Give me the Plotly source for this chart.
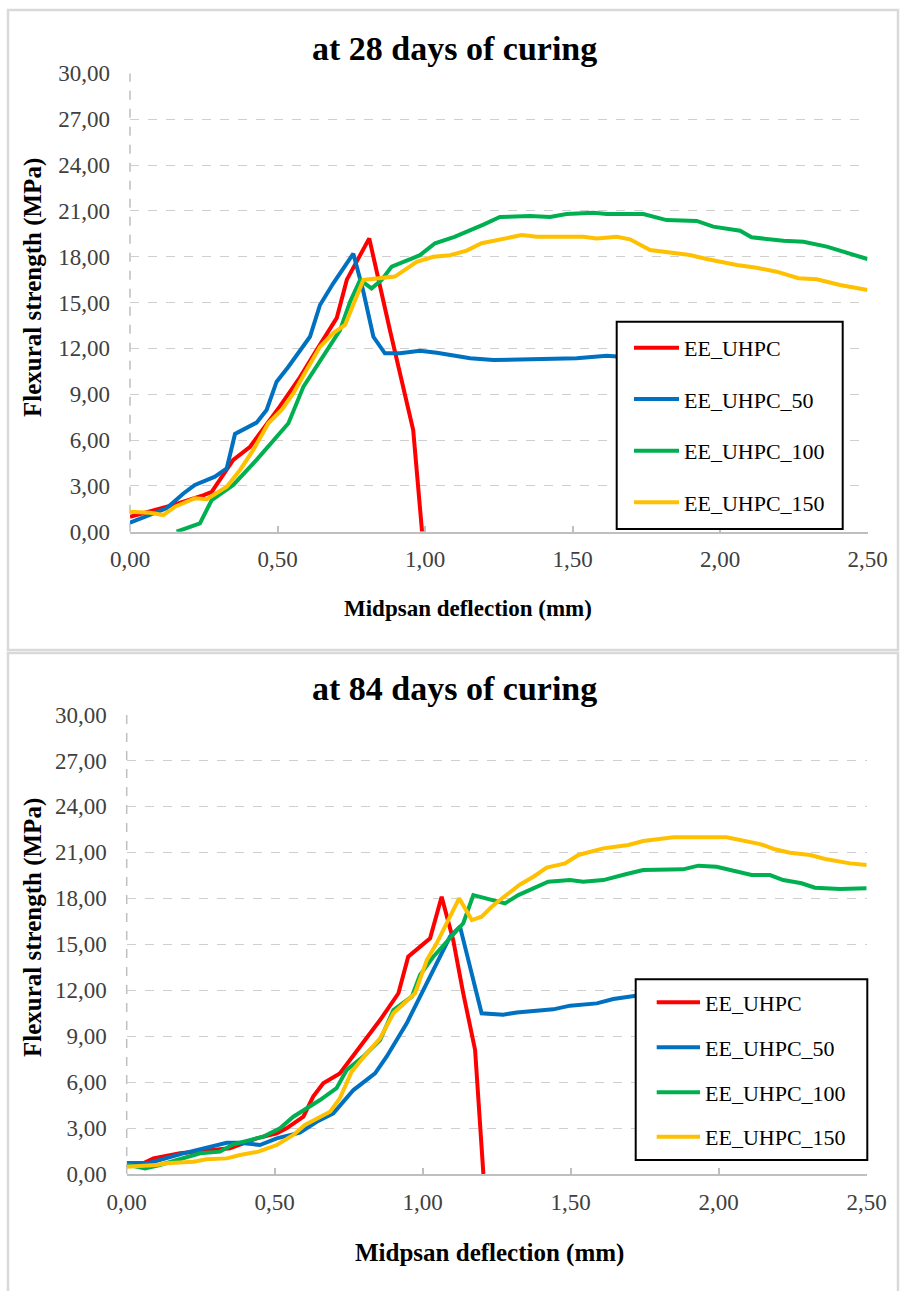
import plotly.graph_objects as go

# ---------------- data : 28 days ----------------
series_names = ["EE_UHPC", "EE_UHPC_50", "EE_UHPC_100", "EE_UHPC_150"]
series_colors = ["#FF0000", "#0070C0", "#00B050", "#FFC000"]

x28_uhpc = [0, 0.147, 0.25, 0.277, 0.35, 0.407, 0.508, 0.576, 0.633, 0.701, 0.735, 0.757, 0.811, 0.881, 0.96, 0.99]
y28_uhpc = [0.98, 1.75, 2.4, 2.6, 4.7, 5.56, 8.2, 10.1, 11.9, 14.0, 16.5, 17.3, 19.2, 13.2, 6.66, 0.0]

x28_50 = [0, 0.124, 0.181, 0.22, 0.288, 0.328, 0.356, 0.429, 0.463, 0.497, 0.537, 0.576, 0.61, 0.644, 0.689, 0.757,
          0.79, 0.825, 0.864, 0.915, 0.983, 1.04, 1.1, 1.153, 1.232, 1.333, 1.424, 1.48, 1.514, 1.616, 1.7]
y28_50 = [0.59, 1.53, 2.5, 3.06, 3.6, 4.15, 6.4, 7.14, 7.97, 9.82, 10.8, 11.9, 12.76, 14.84, 16.26, 18.2,
          15.8, 12.76, 11.68, 11.68, 11.85, 11.72, 11.5, 11.35, 11.24, 11.28, 11.35, 11.4, 11.35, 11.52, 11.4]

x28_100 = [0.158, 0.237, 0.277, 0.35, 0.429, 0.537, 0.588, 0.667, 0.712, 0.746, 0.78, 0.819, 0.853, 0.887, 0.983,
           1.034, 1.1, 1.198, 1.254, 1.356, 1.424, 1.48, 1.571, 1.616, 1.74, 1.819, 1.921, 1.977, 2.068, 2.107,
           2.215, 2.283, 2.362, 2.5]
y28_100 = [0.0, 0.55, 2.07, 3.06, 4.7, 7.1, 9.5, 11.9, 13.2, 15.05, 16.48, 15.93, 16.48, 17.35, 18.1,
           18.88, 19.3, 20.1, 20.6, 20.67, 20.6, 20.8, 20.88, 20.8, 20.8, 20.4, 20.34, 19.97, 19.7, 19.27,
           19.05, 18.98, 18.66, 17.85]

x28_150 = [0, 0.068, 0.113, 0.153, 0.22, 0.26, 0.328, 0.373, 0.418, 0.469, 0.514, 0.554, 0.599, 0.644, 0.689,
           0.729, 0.791, 0.847, 0.898, 0.972, 1.028, 1.085, 1.141, 1.192, 1.254, 1.328, 1.379, 1.537, 1.582,
           1.65, 1.695, 1.763, 1.898, 1.955, 2.057, 2.124, 2.192, 2.266, 2.328, 2.407, 2.5]
y28_150 = [1.31, 1.24, 1.09, 1.64, 2.19, 2.12, 2.95, 4.04, 5.35, 7.1, 7.97, 9.06, 10.6, 12.1, 13.0,
           13.53, 16.48, 16.59, 16.7, 17.67, 18.0, 18.1, 18.4, 18.88, 19.14, 19.42, 19.3, 19.3, 19.2,
           19.3, 19.14, 18.44, 18.11, 17.85, 17.46, 17.28, 17.02, 16.59, 16.52, 16.15, 15.82]

# ---------------- data : 84 days ----------------
x84_uhpc = [0, 0.056, 0.09, 0.135, 0.18, 0.349, 0.439, 0.507, 0.54, 0.597, 0.63, 0.664, 0.72, 0.788, 0.856,
            0.918, 0.951, 1.025, 1.064, 1.103, 1.137, 1.177, 1.205]
y84_uhpc = [0.7, 0.7, 1.02, 1.2, 1.35, 1.68, 2.33, 2.66, 2.98, 3.74, 5.05, 5.92, 6.57, 8.31, 10.05,
            11.8, 14.19, 15.39, 18.1, 15.28, 11.8, 8.1, 0.0]

x84_50 = [0, 0.079, 0.191, 0.248, 0.338, 0.383, 0.45, 0.507, 0.585, 0.642, 0.698, 0.766, 0.839, 0.878, 0.946,
          0.991, 1.036, 1.092, 1.126, 1.16, 1.199, 1.272, 1.318, 1.441, 1.498, 1.588, 1.644, 1.72, 1.8]
y84_50 = [0.7, 0.74, 1.35, 1.61, 2.04, 2.04, 1.89, 2.33, 2.7, 3.41, 3.96, 5.48, 6.57, 7.66, 9.84,
          11.58, 13.32, 15.49, 16.15, 13.53, 10.49, 10.4, 10.55, 10.75, 10.99, 11.14, 11.42, 11.64, 11.7]

x84_100 = [0, 0.062, 0.112, 0.191, 0.248, 0.315, 0.36, 0.462, 0.518, 0.563, 0.608, 0.653, 0.709, 0.743, 0.799,
           0.856, 0.901, 0.963, 0.991, 1.036, 1.137, 1.171, 1.278, 1.323, 1.424, 1.498, 1.542, 1.61, 1.689,
           1.745, 1.88, 1.931, 1.993, 2.049, 2.111, 2.173, 2.218, 2.28, 2.325, 2.41, 2.5]
y84_100 = [0.61, 0.37, 0.59, 1.02, 1.35, 1.46, 1.94, 2.44, 2.98, 3.74, 4.29, 4.83, 5.6, 6.79, 7.66,
           8.75, 10.7, 11.58, 12.99, 14.19, 16.37, 18.21, 17.67, 18.21, 19.08, 19.19, 19.08, 19.19, 19.59,
           19.85, 19.89, 20.13, 20.06, 19.8, 19.52, 19.52, 19.19, 18.98, 18.69, 18.6, 18.65]

x84_150 = [0, 0.056, 0.101, 0.135, 0.225, 0.27, 0.338, 0.383, 0.445, 0.507, 0.563, 0.602, 0.642, 0.687, 0.72,
           0.76, 0.811, 0.856, 0.901, 0.974, 1.014, 1.047, 1.123, 1.166, 1.199, 1.233, 1.278, 1.329, 1.374,
           1.419, 1.481, 1.526, 1.61, 1.695, 1.745, 1.802, 1.847, 2.027, 2.072, 2.14, 2.19, 2.241, 2.309,
           2.36, 2.444, 2.5]
y84_150 = [0.48, 0.52, 0.59, 0.7, 0.8, 0.96, 1.02, 1.24, 1.46, 1.89, 2.55, 3.2, 3.63, 4.07, 4.94,
           6.68, 7.88, 8.86, 10.49, 11.8, 13.97, 15.06, 18.0, 16.58, 16.8, 17.45, 18.15, 18.9, 19.41,
           20.0, 20.28, 20.83, 21.26, 21.48, 21.74, 21.85, 21.98, 21.98, 21.8, 21.54, 21.2, 20.98, 20.83,
           20.57, 20.28, 20.17]

panel_titles = ["at 28 days of curing", "at 84 days of curing"]
x_title = "Midpsan deflection (mm)"
y_title = "Flexural strength (MPa)"

# ---------------- layout helpers ----------------
W, H = 901, 1291
SERIF = "Liberation Serif"


def px(v):
    return v / W


def py(v):
    return 1 - v / H


fig = go.Figure()

data28 = [(x28_uhpc, y28_uhpc), (x28_50, y28_50), (x28_100, y28_100), (x28_150, y28_150)]
data84 = [(x84_uhpc, y84_uhpc), (x84_50, y84_50), (x84_100, y84_100), (x84_150, y84_150)]

for i, (xs, ys) in enumerate(data28):
    fig.add_trace(go.Scatter(x=xs, y=ys, mode="lines", name=series_names[i],
                             line=dict(color=series_colors[i], width=4),
                             xaxis="x", yaxis="y", showlegend=False))
for i, (xs, ys) in enumerate(data84):
    fig.add_trace(go.Scatter(x=xs, y=ys, mode="lines", name=series_names[i],
                             line=dict(color=series_colors[i], width=4),
                             xaxis="x2", yaxis="y2", showlegend=False))

# panel geometry (pixels)
panels = [
    dict(xl=130, xr=867.5, yt=73.4, yb=531.7, box=(8, 898, 10, 650), title_y=48,
         xt=(468, 608, 23), yt_=(33, 288, 25),
         leg=(616.7, 842.7, 321.7, 529), leg_line=(634, 679), leg_text=682,
         leg_y=[347.7, 399, 450.7, 502.3]),
    dict(xl=126.7, xr=866.7, yt=714.5, yb=1174, box=(8, 898, 653, 1300), title_y=688,
         xt=(489, 1253, 25), yt_=(33, 928, 25),
         leg=(635.7, 867.3, 979.3, 1160), leg_line=(656.7, 700), leg_text=703,
         leg_y=[1002.3, 1047.3, 1092.3, 1136.7]),
]

axis_font = dict(family=SERIF, size=23, color="#404040")
shapes = []
annotations = []

for k, p in enumerate(panels):
    xname = "xaxis" if k == 0 else "xaxis2"
    yname = "yaxis" if k == 0 else "yaxis2"
    xa = "x" if k == 0 else "x2"
    ya = "y" if k == 0 else "y2"
    fig.layout[xname] = dict(
        domain=[px(p["xl"]), px(p["xr"])], anchor=ya, range=[0, 2.5], dtick=0.5, tick0=0,
        tickformat=".2f", showline=True, linecolor="#bfbfbf", linewidth=2,
        ticks="inside", ticklen=6, tickwidth=1.5, tickcolor="#bfbfbf",
        showgrid=False, zeroline=False, tickfont=axis_font, ticklabelstandoff=6,
        automargin=False, fixedrange=True)
    fig.layout[yname] = dict(
        domain=[py(p["yb"]), py(p["yt"])], anchor=xa, range=[0, 30], dtick=3, tick0=0,
        tickformat=".2f", showline=False, showgrid=True, gridcolor="#cfcfcf", gridwidth=1,
        griddash="dash", zeroline=False, ticks="", tickfont=axis_font, ticklabelstandoff=19,
        automargin=False, fixedrange=True)

    # dashed vertical axis line
    shapes.append(dict(type="line", xref=f"{xa} domain", yref=f"{ya} domain", x0=0, x1=0, y0=0, y1=1,
                       line=dict(color="#bfbfbf", width=1.5, dash="dash"), layer="below"))

    # panel border
    bx0, bx1, by0, by1 = p["box"]
    shapes.append(dict(type="rect", xref="paper", yref="paper", x0=px(bx0), x1=px(bx1),
                       y0=py(by1), y1=py(by0), line=dict(color="#d9d9d9", width=2.5),
                       fillcolor="rgba(0,0,0,0)", layer="below"))

    # title
    annotations.append(dict(text=f"<b>{panel_titles[k]}</b>", xref="paper", yref="paper",
                            x=px(454), y=py(p["title_y"]), xanchor="center", yanchor="middle",
                            showarrow=False, font=dict(family=SERIF, size=34, color="#000000")))
    # axis titles
    tx, ty, ts = p["xt"]
    annotations.append(dict(text=f"<b>{x_title}</b>", xref="paper", yref="paper",
                            x=px(tx), y=py(ty), xanchor="center", yanchor="middle",
                            showarrow=False, font=dict(family=SERIF, size=ts, color="#000000")))
    vx, vy, vs = p["yt_"]
    annotations.append(dict(text=f"<b>{y_title}</b>", xref="paper", yref="paper",
                            x=px(vx), y=py(vy), xanchor="center", yanchor="middle", textangle=-90,
                            showarrow=False, font=dict(family=SERIF, size=vs, color="#000000")))

    # legend box
    lx0, lx1, ly0, ly1 = p["leg"]
    shapes.append(dict(type="rect", xref="paper", yref="paper", x0=px(lx0), x1=px(lx1),
                       y0=py(ly1), y1=py(ly0), line=dict(color="#000000", width=2),
                       fillcolor="#ffffff", layer="above"))
    l0, l1 = p["leg_line"]
    for i, yy in enumerate(p["leg_y"]):
        shapes.append(dict(type="line", xref="paper", yref="paper", x0=px(l0), x1=px(l1),
                           y0=py(yy), y1=py(yy), line=dict(color=series_colors[i], width=4),
                           layer="above"))
        annotations.append(dict(text=series_names[i], xref="paper", yref="paper",
                                x=px(p["leg_text"]), y=py(yy + 1), xanchor="left", yanchor="middle",
                                showarrow=False, font=dict(family=SERIF, size=22, color="#000000")))

fig.update_layout(
    width=W, height=H, margin=dict(l=0, r=0, t=0, b=0, pad=0, autoexpand=False),
    paper_bgcolor="#ffffff", plot_bgcolor="#ffffff",
    separators=", ", showlegend=False,
    shapes=shapes, annotations=annotations,
)

fig.write_html("out.html")
